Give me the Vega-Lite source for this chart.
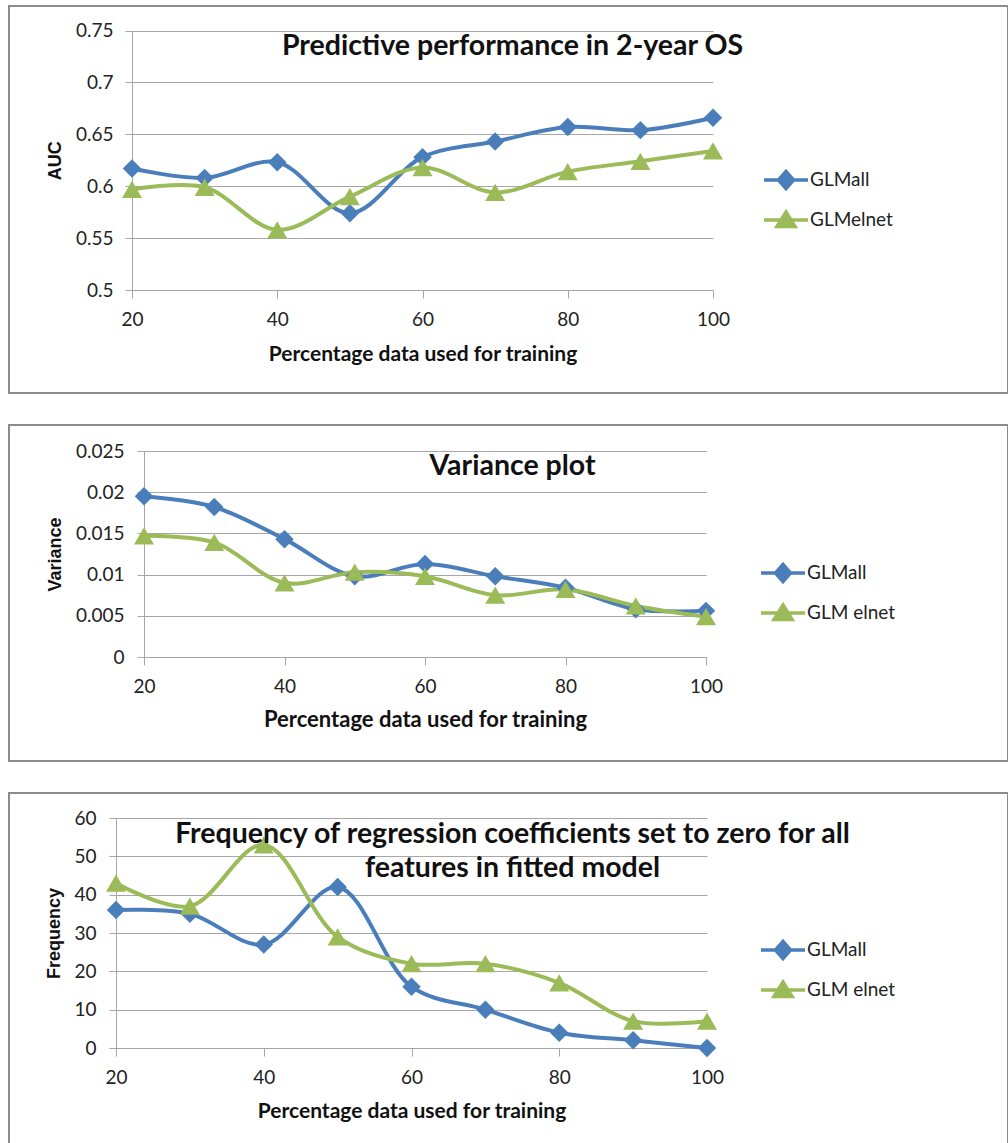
{
  "$schema": "https://vega.github.io/schema/vega-lite/v6.json",
  "padding": {"left": 8, "top": 5, "right": 0, "bottom": 0},
  "spacing": 30,
  "background": "white",
  "resolve": {"scale": {"x": "independent", "y": "independent", "color": "independent"}, "legend": {"color": "independent"}, "axis": {"x": "independent", "y": "independent"}},
  "config": {
    "view": {"stroke": "#8c8c8c", "strokeWidth": 2},
    "axis": {
      "domainColor": "#a6a6a6", "tickColor": "#a6a6a6", "gridColor": "#a6a6a6",
      "domainWidth": 1, "tickWidth": 1, "gridWidth": 1, "labelFlush": false,
      "labelFont": "Lato", "labelFontSize": 19, "labelColor": "#222222",
      "titleFont": "Lato", "titleFontSize": 21, "titleFontWeight": "bold", "titleColor": "#111111"
    },
    "axisY": {"titleFont": "Liberation Sans", "titleFontSize": 18},
    "legend": {
      "orient": "none", "padding": 0, "labelFont": "Lato", "labelFontSize": 19, "labelColor": "#222222",
      "rowPadding": 9, "symbolSize": 400, "symbolStrokeWidth": 3.5, "labelOffset": 12
    },
    "title": {"font": "Lato", "fontSize": 28.5, "fontWeight": "bold", "color": "#111111", "anchor": "middle", "frame": "group", "dx": 4},
    "line": {"interpolate": "catmull-rom", "strokeWidth": 4},
    "point": {"filled": true, "opacity": 1}
  },
  "vconcat": [
    {
      "width": 999, "height": 387,
      "title": {"text": "Predictive performance in 2-year OS", "offset": -54},
      "data": {"values": [
        {"pct": 20, "series": "GLMall", "v": 0.617}, {"pct": 30, "series": "GLMall", "v": 0.608},
        {"pct": 40, "series": "GLMall", "v": 0.623}, {"pct": 50, "series": "GLMall", "v": 0.574},
        {"pct": 60, "series": "GLMall", "v": 0.628}, {"pct": 70, "series": "GLMall", "v": 0.643},
        {"pct": 80, "series": "GLMall", "v": 0.657}, {"pct": 90, "series": "GLMall", "v": 0.654},
        {"pct": 100, "series": "GLMall", "v": 0.666},
        {"pct": 20, "series": "GLMelnet", "v": 0.597}, {"pct": 30, "series": "GLMelnet", "v": 0.599},
        {"pct": 40, "series": "GLMelnet", "v": 0.558}, {"pct": 50, "series": "GLMelnet", "v": 0.590},
        {"pct": 60, "series": "GLMelnet", "v": 0.618}, {"pct": 70, "series": "GLMelnet", "v": 0.594},
        {"pct": 80, "series": "GLMelnet", "v": 0.614}, {"pct": 90, "series": "GLMelnet", "v": 0.624},
        {"pct": 100, "series": "GLMelnet", "v": 0.634}
      ]},
      "encoding": {
        "x": {"field": "pct", "type": "quantitative",
          "scale": {"domain": [20, 100], "range": [123, 704], "nice": false, "zero": false},
          "axis": {"values": [20, 40, 60, 80, 100], "offset": -103, "grid": false, "tickSize": 8, "labelPadding": 12, "titlePadding": 14, "title": "Percentage data used for training"}},
        "y": {"field": "v", "type": "quantitative",
          "scale": {"domain": [0.5, 0.75], "range": [284, 24.5], "nice": false, "zero": false},
          "axis": {"values": [0.5, 0.55, 0.6, 0.65, 0.7, 0.75], "format": "~g", "offset": -123, "grid": true, "tickSize": 7, "labelPadding": 12, "titlePadding": 11, "title": "AUC"}},
        "color": {"field": "series", "type": "nominal",
          "scale": {"domain": ["GLMall", "GLMelnet"], "range": ["#4a7ebb", "#9bbb59"]},
          "legend": {"title": null, "legendX": 765, "legendY": 162,
            "encode": {"symbols": {"update": {
              "shape": [{"test": "datum.value === 'GLMall'", "value": "M-2.2,0L2.2,0M0,-0.85L0.75,0L0,0.85L-0.75,0Z"}, {"value": "M-2.2,0L2.2,0M0,-0.8L0.9,0.65L-0.9,0.65Z"}],
              "fill": {"scale": "color", "field": "value"}, "stroke": {"scale": "color", "field": "value"}, "strokeWidth": {"value": 3.5}}}}}}
      },
      "layer": [
        {"mark": {"type": "line"}},
        {"transform": [{"filter": "datum.series === 'GLMall'"}], "mark": {"type": "point", "shape": "diamond", "size": 340}},
        {"transform": [{"filter": "datum.series !== 'GLMall'"}], "mark": {"type": "point", "shape": "triangle-up", "size": 400}}
      ]
    },
    {
      "width": 999, "height": 336,
      "title": {"text": "Variance plot", "offset": -55},
      "data": {"values": [
        {"pct": 20, "series": "GLMall", "v": 0.0195}, {"pct": 30, "series": "GLMall", "v": 0.0182},
        {"pct": 40, "series": "GLMall", "v": 0.0143}, {"pct": 50, "series": "GLMall", "v": 0.0098},
        {"pct": 60, "series": "GLMall", "v": 0.0113}, {"pct": 70, "series": "GLMall", "v": 0.0098},
        {"pct": 80, "series": "GLMall", "v": 0.0084}, {"pct": 90, "series": "GLMall", "v": 0.0058},
        {"pct": 100, "series": "GLMall", "v": 0.0056},
        {"pct": 20, "series": "GLM elnet", "v": 0.0147}, {"pct": 30, "series": "GLM elnet", "v": 0.0139},
        {"pct": 40, "series": "GLM elnet", "v": 0.0090}, {"pct": 50, "series": "GLM elnet", "v": 0.0103},
        {"pct": 60, "series": "GLM elnet", "v": 0.0098}, {"pct": 70, "series": "GLM elnet", "v": 0.0075},
        {"pct": 80, "series": "GLM elnet", "v": 0.0082}, {"pct": 90, "series": "GLM elnet", "v": 0.0062},
        {"pct": 100, "series": "GLM elnet", "v": 0.0049}
      ]},
      "encoding": {
        "x": {"field": "pct", "type": "quantitative",
          "scale": {"domain": [20, 100], "range": [135, 697], "nice": false, "zero": false},
          "axis": {"values": [20, 40, 60, 80, 100], "offset": -104, "grid": false, "tickSize": 8, "labelPadding": 12, "titlePadding": 13, "title": "Percentage data used for training", "titleFontSize": 22}},
        "y": {"field": "v", "type": "quantitative",
          "scale": {"domain": [0, 0.025], "range": [232, 26], "nice": false, "zero": false},
          "axis": {"values": [0, 0.005, 0.01, 0.015, 0.02, 0.025], "format": "~g", "offset": -135, "grid": true, "tickSize": 7, "labelPadding": 13, "titlePadding": 11, "title": "Variance"}},
        "color": {"field": "series", "type": "nominal",
          "scale": {"domain": ["GLMall", "GLM elnet"], "range": ["#4a7ebb", "#9bbb59"]},
          "legend": {"title": null, "legendX": 762, "legendY": 136,
            "encode": {"symbols": {"update": {
              "shape": [{"test": "datum.value === 'GLMall'", "value": "M-2.2,0L2.2,0M0,-0.85L0.75,0L0,0.85L-0.75,0Z"}, {"value": "M-2.2,0L2.2,0M0,-0.8L0.9,0.65L-0.9,0.65Z"}],
              "fill": {"scale": "color", "field": "value"}, "stroke": {"scale": "color", "field": "value"}, "strokeWidth": {"value": 3.5}}}}}}
      },
      "layer": [
        {"mark": {"type": "line"}},
        {"transform": [{"filter": "datum.series === 'GLMall'"}], "mark": {"type": "point", "shape": "diamond", "size": 340}},
        {"transform": [{"filter": "datum.series !== 'GLMall'"}], "mark": {"type": "point", "shape": "triangle-up", "size": 400}}
      ]
    },
    {
      "width": 999, "height": 353,
      "title": {"text": ["Frequency of regression coefficients set to zero for all", "features in fitted model"], "offset": -89, "lineHeight": 34},
      "data": {"values": [
        {"pct": 20, "series": "GLMall", "v": 36}, {"pct": 30, "series": "GLMall", "v": 35},
        {"pct": 40, "series": "GLMall", "v": 27}, {"pct": 50, "series": "GLMall", "v": 42},
        {"pct": 60, "series": "GLMall", "v": 16}, {"pct": 70, "series": "GLMall", "v": 10},
        {"pct": 80, "series": "GLMall", "v": 4}, {"pct": 90, "series": "GLMall", "v": 2},
        {"pct": 100, "series": "GLMall", "v": 0},
        {"pct": 20, "series": "GLM elnet", "v": 43}, {"pct": 30, "series": "GLM elnet", "v": 37},
        {"pct": 40, "series": "GLM elnet", "v": 53}, {"pct": 50, "series": "GLM elnet", "v": 29},
        {"pct": 60, "series": "GLM elnet", "v": 22}, {"pct": 70, "series": "GLM elnet", "v": 22},
        {"pct": 80, "series": "GLM elnet", "v": 17}, {"pct": 90, "series": "GLM elnet", "v": 7},
        {"pct": 100, "series": "GLM elnet", "v": 7}
      ]},
      "encoding": {
        "x": {"field": "pct", "type": "quantitative",
          "scale": {"domain": [20, 100], "range": [107, 698], "nice": false, "zero": false},
          "axis": {"values": [20, 40, 60, 80, 100], "offset": -98, "grid": false, "tickSize": 8, "labelPadding": 12, "titlePadding": 13, "title": "Percentage data used for training"}},
        "y": {"field": "v", "type": "quantitative",
          "scale": {"domain": [0, 60], "range": [255, 25], "nice": false, "zero": false},
          "axis": {"values": [0, 10, 20, 30, 40, 50, 60], "offset": -107, "grid": true, "tickSize": 7, "labelPadding": 13, "titlePadding": 10, "title": "Frequency"}},
        "color": {"field": "series", "type": "nominal",
          "scale": {"domain": ["GLMall", "GLM elnet"], "range": ["#4a7ebb", "#9bbb59"]},
          "legend": {"title": null, "legendX": 762, "legendY": 145,
            "encode": {"symbols": {"update": {
              "shape": [{"test": "datum.value === 'GLMall'", "value": "M-2.2,0L2.2,0M0,-0.85L0.75,0L0,0.85L-0.75,0Z"}, {"value": "M-2.2,0L2.2,0M0,-0.8L0.9,0.65L-0.9,0.65Z"}],
              "fill": {"scale": "color", "field": "value"}, "stroke": {"scale": "color", "field": "value"}, "strokeWidth": {"value": 3.5}}}}}}
      },
      "layer": [
        {"mark": {"type": "line"}},
        {"transform": [{"filter": "datum.series === 'GLMall'"}], "mark": {"type": "point", "shape": "diamond", "size": 340}},
        {"transform": [{"filter": "datum.series !== 'GLMall'"}], "mark": {"type": "point", "shape": "triangle-up", "size": 400}}
      ]
    }
  ]
}
